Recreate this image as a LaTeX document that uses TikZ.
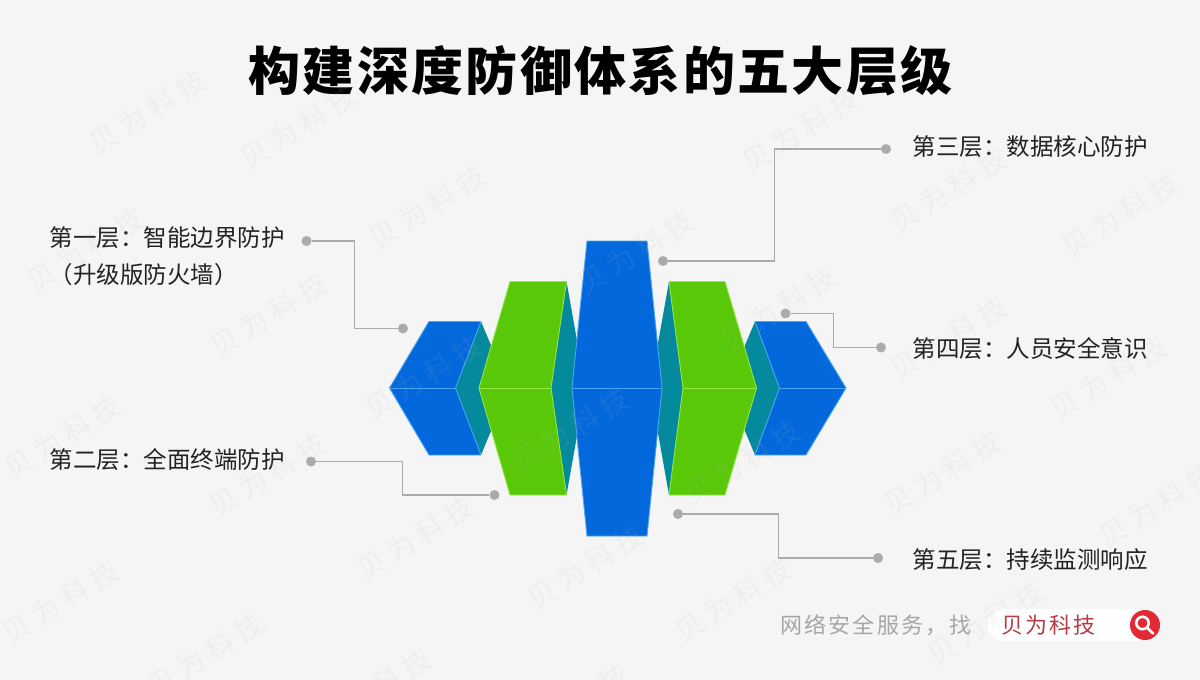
\documentclass[tikz,border=0pt]{standalone}
\usepackage{fontspec}
\setmainfont{Noto Sans CJK SC}
\newfontfamily\titlefont[LetterSpace=4.5]{Noto Sans CJK SC}
\newfontfamily\wmfont[LetterSpace=22]{Noto Sans CJK SC}
\newfontfamily\footfont[LetterSpace=10]{Noto Sans CJK SC}
\definecolor{bgc}{HTML}{F5F5F5}
\definecolor{blueface}{HTML}{0268DC}
\definecolor{blueedge}{HTML}{4AA6F0}
\definecolor{greenface}{HTML}{59C809}
\definecolor{greenedge}{HTML}{93E645}
\definecolor{tealface}{HTML}{05899C}
\definecolor{dotc}{HTML}{ABABAB}
\definecolor{redc}{HTML}{E02B36}
\definecolor{redtext}{HTML}{B83A45}
\definecolor{labelc}{HTML}{222222}
\definecolor{footc}{HTML}{A6A6A6}
\definecolor{wmc}{HTML}{B8B8B8}
\tikzset{
  x=1pt,y=-1pt,
  bluepart/.style={fill=blueface,draw=blueedge,line width=0.9pt,line join=round},
  greenpart/.style={fill=greenface,draw=greenedge,line width=0.9pt,line join=round},
  tealpart/.style={fill=tealface,draw=none},
  midblue/.style={draw=blueedge,line width=0.9pt},
  midgreen/.style={draw=greenedge,line width=0.9pt},
  dotnode/.style={circle,fill=dotc,draw=none,minimum size=10pt,inner sep=0pt},
  link/.style={draw=dotc,line width=1.1pt},
  labeltext/.style={anchor=west,inner sep=0pt,text=labelc,align=left,font=\fontsize{23.5pt}{37pt}\selectfont},
  wm/.style={rotate=32,inner sep=0pt,text=wmc,text opacity=0.11,font=\wmfont\fontsize{28pt}{28pt}\selectfont},
}
\begin{document}
\begin{tikzpicture}
\useasboundingbox (0,0) rectangle (1200,680);
\fill[bgc] (0,0) rectangle (1200,680);

% title
\node[inner sep=0pt,text=black,font=\titlefont\bfseries\fontsize{52pt}{52pt}\selectfont] (title) at (600.5,71) {构建深度防御体系的五大层级};

% teal side faces
\fill[tealpart] (481,321.5) -- (509,388) -- (481,455) -- (455.5,388) -- cycle;
\fill[tealpart] (566.5,281.5) -- (585.5,388) -- (566.5,495) -- (551,388) -- cycle;
\fill[tealpart] (669,281.5) -- (650,388) -- (669,495) -- (683,388) -- cycle;
\fill[tealpart] (755,321.5) -- (727,388) -- (755,455) -- (779.5,388) -- cycle;

% small blue blocks
\draw[bluepart] (429,321.5) -- (481,321.5) -- (455.5,388) -- (481,455) -- (429,455) -- (389.5,388) -- cycle;
\draw[midblue] (389.5,388) -- (455.5,388);
\draw[bluepart] (755,321.5) -- (806,321.5) -- (846,388) -- (806,455) -- (755,455) -- (779.5,388) -- cycle;
\draw[midblue] (779.5,388) -- (846,388);

% green blocks
\draw[greenpart] (510,281.5) -- (566.5,281.5) -- (551,388) -- (566.5,495) -- (510,495) -- (479,388) -- cycle;
\draw[midgreen] (479,388) -- (551,388);
\draw[greenpart] (669,281.5) -- (725,281.5) -- (756.5,388) -- (725,495) -- (669,495) -- (683,388) -- cycle;
\draw[midgreen] (683,388) -- (756.5,388);

% central block
\draw[bluepart] (587,241) -- (647,241) -- (662,388) -- (647,536) -- (587,536) -- (572,388) -- cycle;
\draw[midblue] (572,388) -- (662,388);

% labels
\node[labeltext] (l1) at (49.5,256) {第一层：智能边界防护\\（升级版防火墙）};
\node[labeltext] (l2) at (49.5,460) {第二层：全面终端防护};
\node[labeltext] (l3) at (912.5,147) {第三层：数据核心防护};
\node[labeltext] (l4) at (912.5,348.5) {第四层：人员安全意识};
\node[labeltext] (l5) at (912.5,559.5) {第五层：持续监测响应};

% dots
\node[dotnode] (a1) at (306.5,241) {};
\node[dotnode] (b1) at (403,328.5) {};
\node[dotnode] (a2) at (311,461.5) {};
\node[dotnode] (b2) at (494.5,495) {};
\node[dotnode] (a3) at (886,149) {};
\node[dotnode] (b3) at (663,261) {};
\node[dotnode] (a4) at (881,347.5) {};
\node[dotnode] (b4) at (785.5,313.5) {};
\node[dotnode] (a5) at (878,558) {};
\node[dotnode] (b5) at (678,514) {};

% connectors
\draw[link] (a1) -| (354.5,328.5) -- (b1);
\draw[link] (a2) -| (402.5,495) -- (b2);
\draw[link] (a3) -| (774.5,261) -- (b3);
\draw[link] (b4) -| (833.5,347.5) -- (a4);
\draw[link] (b5) -| (778.5,558) -- (a5);

% footer
\node[anchor=west,inner sep=0pt,text=footc,font=\footfont\fontsize{22pt}{22pt}\selectfont] (foot) at (780,625) {网络安全服务，找};
\fill[white,rounded corners=16pt] (988,609) rectangle (1151,641);
\node[anchor=west,inner sep=0pt,text=redtext,font=\footfont\fontsize{22pt}{22pt}\selectfont] (brand) at (1001,625) {贝为科技};
\node[circle,fill=redc,draw=none,minimum size=30pt,inner sep=0pt] (search) at (1145,625) {};
\draw[white,line width=2.6pt] (1142.5,623) circle[radius=6.2];
\draw[white,line width=2.8pt,line cap=round] (1147.5,628) -- (1153,633.5);

% watermarks
\foreach \px/\py in {147/112,298/127,427/207,635/252,800/130,948/190,1120/215,
  85/250,268/315,423/377,570/430,778/308,948/338,1108/378,
  62/437,267/475,415/538,585/567,742/462,942/473,1157/505,
  60/602,205/655,372/690,570/705,733/600,985/623}
  \node[wm] at (\px,\py) {贝为科技};
\end{tikzpicture}
\end{document}
